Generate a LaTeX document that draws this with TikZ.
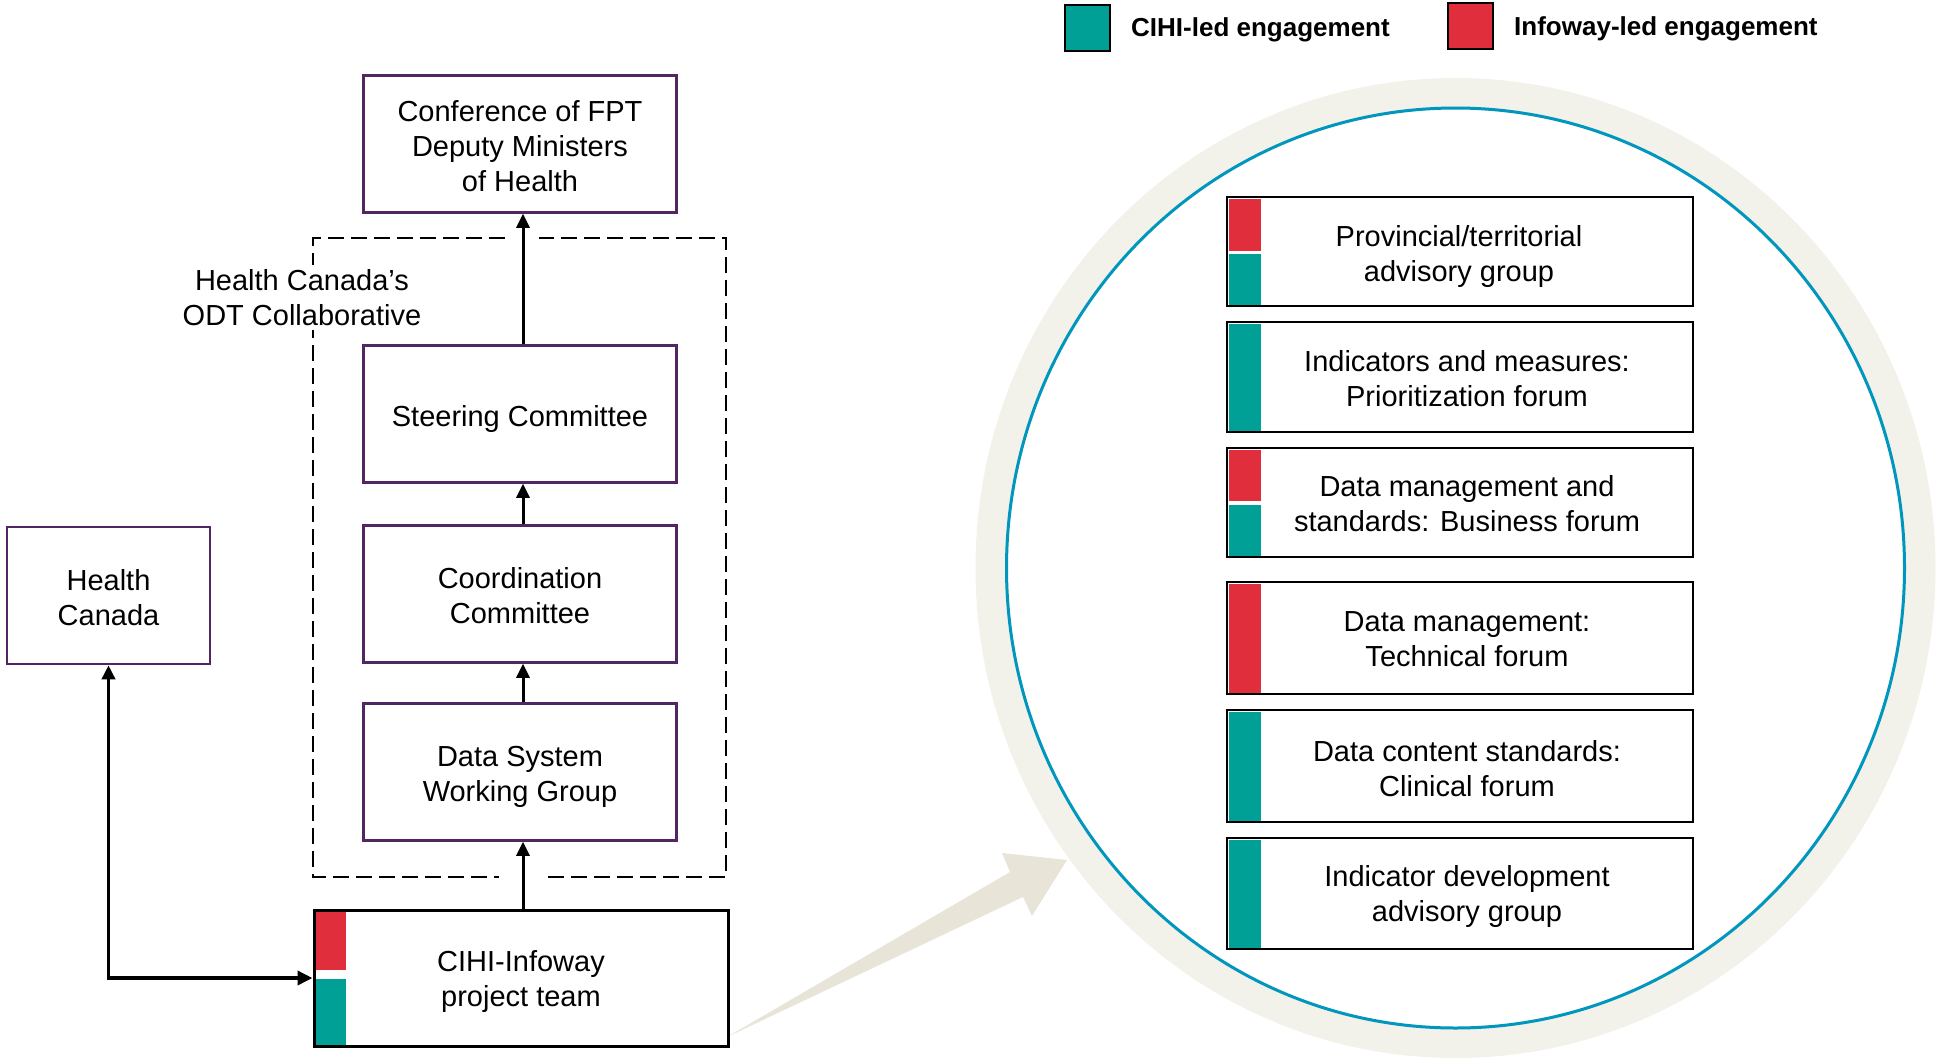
\documentclass[tikz,border=0pt]{standalone}
\usepackage{fontspec}
\setmainfont{Liberation Sans}
\usetikzlibrary{arrows.meta}
\definecolor{tealc}{RGB}{0,160,150}
\definecolor{redc}{RGB}{224,46,60}
\definecolor{purp}{RGB}{82,38,98}
\definecolor{ringc}{RGB}{242,241,234}
\definecolor{bluec}{RGB}{0,150,190}
\definecolor{arrowgray}{RGB}{232,228,216}
\begin{document}
\begin{tikzpicture}[x=1pt,y=-1pt,
  font=\fontsize{29}{35}\selectfont,
  pbox/.style={draw=purp, line width=2.5pt, minimum width=313pt, minimum height=137pt, inner sep=0pt},
  fbox/.style={draw=black, line width=2.5pt, minimum width=466pt, inner sep=0pt},
  ftext/.style={align=center, inner sep=0pt},
  arr/.style={line width=3pt, -{Triangle[length=14pt,width=13pt]}},
  dashbox/.style={line width=1.8pt, dash pattern=on 16pt off 7pt},
  legsq/.style={draw=black, line width=2.5pt, minimum width=45pt, minimum height=46pt, inner sep=0pt},
  legtxt/.style={font=\fontsize{26}{30}\selectfont\bfseries, anchor=west, inner sep=0pt}
]
\useasboundingbox (0,0) rectangle (1936,1058);

% ring and circle
\fill[ringc] (1455.5,568) ellipse [x radius=480pt, y radius=490pt];
\filldraw[fill=white, draw=bluec, line width=3pt] (1455.5,568) ellipse [x radius=449pt, y radius=460pt];

% big tapered arrow
\fill[arrowgray] (727,1037) -- (1010,872) -- (1002,853) -- (1067,860) -- (1032,916) -- (1023,897) -- cycle;

% legend
\node[legsq, fill=tealc] (legc) at (1087.5,28) {};
\node[legtxt] (legct) at (1131,30) {CIHI-led engagement};
\node[legsq, fill=redc] (legi) at (1470.5,26) {};
\node[legtxt] (legit) at (1514,29) {Infoway-led engagement};

% dashed collaborative box
\draw[dashbox] (505,238) -- (313,238) -- (313,877) -- (499,877);
\draw[dashbox] (548,877) -- (726,877) -- (726,238) -- (539,238);
\node[align=center, fill=white, inner sep=4pt] (odt) at (302,297.5) {Health Canada’s\\ODT Collaborative};

% left boxes
\node[pbox] (conf) at (520,144) {};
\node[ftext] (conft) at (520,146) {Conference of FPT\\Deputy Ministers\\of Health};
\node[pbox] (steer) at (520,414) {};
\node[ftext] (steert) at (520,419) {Steering Committee};
\node[pbox] (coord) at (520,594) {};
\node[ftext] (coordt) at (520,596) {Coordination\\Committee};
\node[pbox] (data) at (520,772) {};
\node[ftext] (datat) at (520,776.5) {Data System\\Working Group};
\node[pbox, minimum width=203pt] (hc) at (108.5,595.5) {};
\node[ftext] (hct) at (108.5,597.5) {Health\\Canada};
\node[draw=black, line width=3pt, minimum width=414pt, minimum height=136pt, inner sep=0pt] (cihi) at (521,978) {};
\node[ftext] (cihit) at (521,981.5) {CIHI-Infoway\\project team};
\fill[redc] (316,912) rectangle (346,970);
\fill[tealc] (316,979) rectangle (346,1044.5);

% left connectors
\draw[arr] ([xshift=3pt]steer.north) -- ([xshift=3pt]conf.south);
\draw[arr] ([xshift=3pt]coord.north) -- ([xshift=3pt]steer.south);
\draw[arr] ([xshift=3pt]data.north) -- ([xshift=3pt]coord.south);
\draw[arr] ([xshift=2pt]cihi.north) -- ([xshift=3pt]data.south);
\draw[line width=3.5pt, {Triangle[length=14pt,width=13pt]}-{Triangle[length=15pt,width=14pt]}] (hc.south) |- (cihi.west);

% right boxes
\node[fbox, minimum height=109pt] (b1) at (1460,251.5) {};
\fill[redc] (1228.5,198.5) rectangle (1261,251);
\fill[tealc] (1228.5,254) rectangle (1261,304.5);
\node[ftext] (b1t) at (1459,256.5) {Provincial/territorial\\advisory group};

\node[fbox, minimum height=110pt] (b2) at (1460,377) {};
\fill[tealc] (1228.5,323.5) rectangle (1261,430.5);
\node[ftext] (b2t) at (1467,378.5) {Indicators and measures:\\Prioritization forum};

\node[fbox, minimum height=109pt] (b3) at (1460,502.5) {};
\fill[redc] (1228.5,449.5) rectangle (1261,501);
\fill[tealc] (1228.5,505) rectangle (1261,555.5);
\node[ftext] (b3t) at (1467,504) {Data management and\\standards: Business forum};

\node[fbox, minimum height=112pt] (b4) at (1460,638) {};
\fill[redc] (1228.5,583.5) rectangle (1261,692.5);
\node[ftext] (b4t) at (1467,639.5) {Data management:\\Technical forum};

\node[fbox, minimum height=112pt] (b5) at (1460,766) {};
\fill[tealc] (1228.5,711.5) rectangle (1261,820.5);
\node[ftext] (b5t) at (1467,768.5) {Data content standards:\\Clinical forum};

\node[fbox, minimum height=111pt] (b6) at (1460,893.5) {};
\fill[tealc] (1228.5,839.5) rectangle (1261,947.5);
\node[ftext] (b6t) at (1467,896) {Indicator development\\advisory group};
\end{tikzpicture}
\end{document}
